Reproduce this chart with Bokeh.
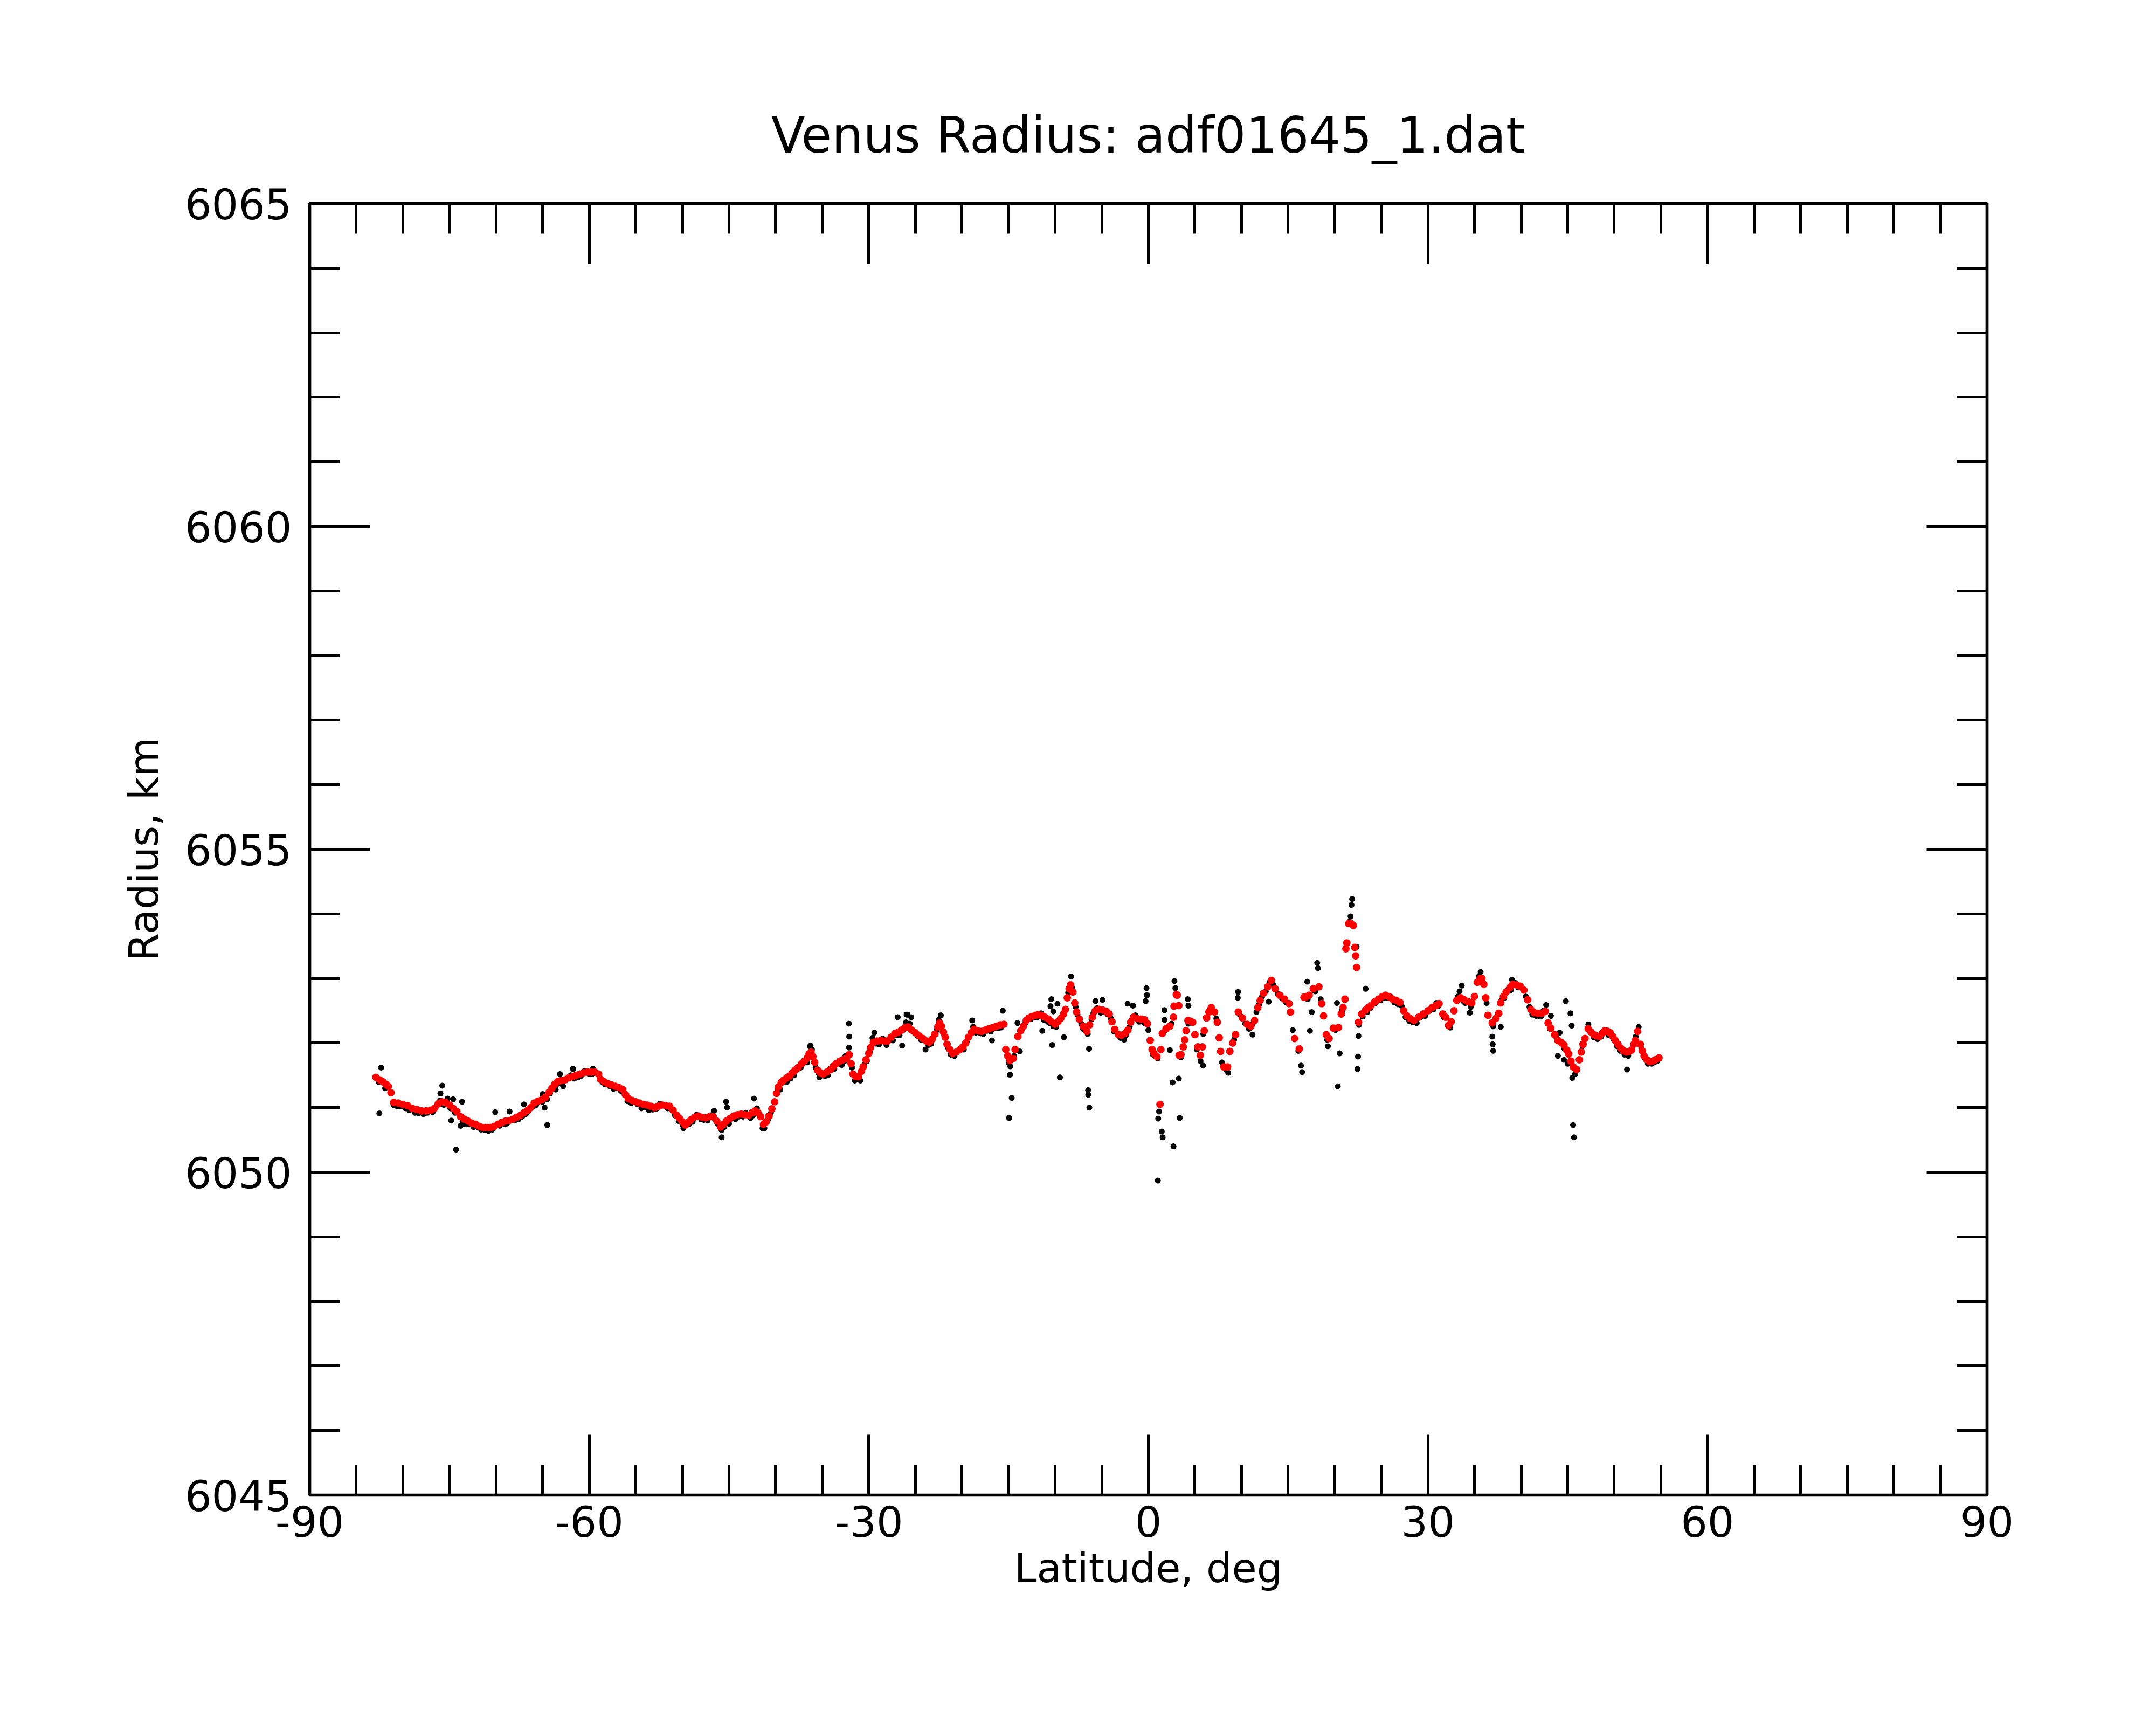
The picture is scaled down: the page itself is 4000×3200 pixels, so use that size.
from bokeh.plotting import figure
from bokeh.models import Range1d, LinearAxis, FixedTicker, CustomJSTickFormatter
from bokeh.embed import file_html
from bokeh.resources import INLINE

# ---------------- data ----------------
title_text = "Venus Radius: adf01645_1.dat"
x_label = "Latitude, deg"
y_label = "Radius, km"
x_major = [-90, -60, -30, 0, 30, 60, 90]
x_minor = [v for v in range(-90, 91, 5) if v % 30 != 0]
y_major = [6045, 6050, 6055, 6060, 6065]
y_minor = [v for v in range(6045, 6066) if v % 5 != 0]

# smoothed radius (red), in segments
red_lat_a = [-82.9,-82.5,-82.14,-81.8,-81.56,-81.27,-80.98,-80.5,-80.0,-79.5,-79.0,-78.5,-78.0,-77.5,-77.0,-76.6,-76.2,-75.8,-75.4,-75.0,-74.6,-74.2,-73.8,-73.4,-73.0,-72.6,-72.2,-71.8,-71.4,-71.0,-70.6,-70.2,-69.8,-69.4,-69.0,-68.6,-68.2,-67.8,-67.4,-67.0,-66.6,-66.3,-65.9,-65.5,-65.1,-64.7,-64.3,-64.0,-63.7,-63.4,-63.0,-62.6,-62.2,-61.8,-61.4,-61.0,-60.6,-60.2,-59.8,-59.4,-59.0,-58.8,-58.4,-58.0,-57.6,-57.2,-56.8,-56.4,-56.1,-55.8,-55.4,-55.0]
red_r_a = [6051.47,6051.43,6051.40,6051.36,6051.33,6051.23,6051.08,6051.07,6051.05,6051.03,6050.99,6050.97,6050.95,6050.95,6050.96,6050.99,6051.06,6051.09,6051.08,6051.04,6050.99,6050.94,6050.86,6050.82,6050.79,6050.76,6050.74,6050.71,6050.69,6050.69,6050.69,6050.71,6050.74,6050.77,6050.79,6050.80,6050.82,6050.85,6050.88,6050.92,6050.96,6051.00,6051.07,6051.10,6051.12,6051.16,6051.24,6051.30,6051.36,6051.40,6051.42,6051.43,6051.46,6051.48,6051.50,6051.52,6051.54,6051.55,6051.55,6051.55,6051.52,6051.44,6051.40,6051.37,6051.35,6051.33,6051.31,6051.28,6051.20,6051.14,6051.11,6051.09]

red_lat_b = [-54.6,-54.2,-53.8,-53.4,-53.0,-52.6,-52.2,-51.8,-51.4,-51.0,-50.6,-50.3,-50.0,-49.7,-49.4,-49.1,-48.7,-48.3,-47.9,-47.5,-47.1,-46.7,-46.3,-45.9,-45.6,-45.3,-44.9,-44.5,-44.1,-43.7,-43.3,-42.9,-42.5,-42.2,-41.9,-41.6,-41.3,-41.0,-40.7,-40.4,-40.1,-39.9,-39.7,-39.4,-39.1,-38.8,-38.5,-38.2,-37.9,-37.6,-37.2,-36.9,-36.6,-36.4,-36.2,-36.0,-35.8,-35.5,-35.2,-34.9,-34.5,-34.1,-33.8,-33.5,-33.1,-32.8,-32.4,-32.1,-31.9,-31.7,-31.4,-31.1,-30.8,-30.6,-30.3,-30.0,-29.8,-29.5,-29.1,-28.7,-28.3,-28.0,-27.6,-27.2,-26.8,-26.5,-26.1,-25.8,-25.4]
red_r_b = [6051.07,6051.05,6051.04,6051.02,6051.00,6051.02,6051.04,6051.03,6051.02,6050.96,6050.88,6050.83,6050.78,6050.73,6050.77,6050.81,6050.85,6050.87,6050.85,6050.84,6050.86,6050.86,6050.79,6050.70,6050.74,6050.79,6050.83,6050.87,6050.89,6050.90,6050.89,6050.88,6050.92,6050.95,6050.92,6050.86,6050.74,6050.78,6050.87,6050.98,6051.09,6051.22,6051.32,6051.39,6051.43,6051.46,6051.49,6051.54,6051.58,6051.62,6051.68,6051.72,6051.77,6051.83,6051.86,6051.79,6051.70,6051.58,6051.54,6051.52,6051.55,6051.59,6051.64,6051.68,6051.72,6051.74,6051.76,6051.82,6051.68,6051.52,6051.48,6051.48,6051.56,6051.63,6051.74,6051.84,6051.93,6052.01,6052.03,6052.04,6052.03,6052.03,6052.09,6052.15,6052.17,6052.20,6052.24,6052.25,6052.20]

red_lat_c = [-25.0,-24.6,-24.2,-23.8,-23.5,-23.2,-22.9,-22.6,-22.4,-22.2,-22.0,-21.8,-21.6,-21.3,-21.0,-20.6,-20.2,-19.9,-19.6,-19.3,-19.0,-18.7,-18.3,-17.9,-17.5,-17.1,-16.7,-16.3,-15.9,-15.5,-15.3,-15.1,-14.85,-14.5,-14.3,-14.0,-13.7,-13.4,-13.1,-12.8,-12.5,-12.1,-11.8,-11.4,-11.1,-10.7,-10.4,-10.0,-9.7,-9.4,-9.1,-8.9,-8.7,-8.5,-8.35,-8.1,-7.9,-7.7,-7.4,-7.0,-6.6,-6.3,-6.0,-5.7,-5.3,-4.9,-4.5,-4.2,-3.9,-3.6,-3.2,-2.9,-2.5,-2.2,-1.9,-1.6,-1.2,-0.8,-0.4,-0.1,0.2,0.4,0.6,0.9,1.25,1.35,1.5,1.9,2.3,2.7,2.75,3.0]
red_r_c = [6052.16,6052.11,6052.07,6052.03,6052.01,6052.06,6052.14,6052.25,6052.31,6052.26,6052.17,6052.09,6051.98,6051.90,6051.84,6051.86,6051.90,6051.94,6052.00,6052.09,6052.16,6052.21,6052.19,6052.18,6052.20,6052.22,6052.24,6052.26,6052.28,6052.29,6051.90,6051.80,6051.73,6051.76,6051.90,6052.10,6052.19,6052.26,6052.35,6052.39,6052.41,6052.43,6052.44,6052.42,6052.40,6052.37,6052.33,6052.29,6052.33,6052.38,6052.45,6052.52,6052.70,6052.84,6052.90,6052.79,6052.62,6052.48,6052.37,6052.26,6052.18,6052.28,6052.40,6052.50,6052.52,6052.51,6052.49,6052.45,6052.33,6052.21,6052.13,6052.12,6052.15,6052.20,6052.32,6052.40,6052.38,6052.37,6052.36,6052.30,6052.04,6051.90,6051.84,6051.79,6051.05,6051.90,6052.15,6052.22,6052.26,6052.40,6052.57,6052.75]

red_lat_d = [3.1,3.27,3.3,3.5,3.75,3.9,4.05,4.25,4.5,4.75,5.0,5.3,5.58,5.8,6.0,6.25,6.5,6.75,7.1,7.4,7.6,7.75,8.1,8.5,8.75,9.05,9.35,9.65,10.1,10.6,11.0,11.4,11.75,12.0,12.35,12.8,13.2,13.6,14.1,14.6,15.1,15.25,15.7,16.2,16.7,17.0,17.25,17.7,18.3,18.6,18.8,19.1,19.4,19.85,20.4,20.7,20.9,21.1,21.2,21.3,21.5,21.75,22.0,22.15,22.25,22.35,22.55,22.9,23.3,23.6,23.9,24.3,24.7,25.1,25.45,25.8,26.2,26.6,27.0,27.4,27.75,28.1,28.5,29.0,29.5,30.0,30.45,30.85,31.2,31.6,31.9,32.2,32.5,32.8]
red_r_d = [6052.74,6052.58,6051.81,6051.82,6051.94,6052.05,6052.19,6052.35,6052.34,6052.32,6052.13,6051.94,6051.81,6051.94,6052.19,6052.39,6052.48,6052.55,6052.48,6052.32,6052.08,6051.87,6051.63,6051.63,6051.87,6052.00,6052.13,6052.48,6052.39,6052.29,6052.26,6052.35,6052.55,6052.66,6052.77,6052.87,6052.97,6052.84,6052.74,6052.68,6052.61,6052.48,6052.07,6051.91,6052.71,6052.72,6052.74,6052.84,6052.87,6052.61,6052.42,6052.13,6052.07,6052.23,6052.24,6052.45,6052.55,6052.68,6053.46,6053.55,6053.85,6053.85,6053.82,6053.48,6053.35,6053.17,6052.32,6052.45,6052.51,6052.55,6052.58,6052.64,6052.68,6052.72,6052.74,6052.72,6052.68,6052.66,6052.63,6052.50,6052.42,6052.38,6052.35,6052.40,6052.45,6052.50,6052.55,6052.58,6052.61,6052.45,6052.40,6052.27,6052.33,6052.50]

red_lat_e = [33.1,33.5,33.9,34.3,34.7,35.0,35.3,35.6,35.8,36.0,36.2,36.45,36.9,37.3,37.6,37.8,38.1,38.4,38.8,39.1,39.5,39.9,40.3,40.7,41.05,41.4,41.8,42.2,42.6,42.9,43.2,43.6,43.95,44.3,44.6,44.9,45.1,45.35,45.6,45.95,46.25,46.45,46.65,46.85,47.2,47.5,47.8,48.1,48.4,48.7,48.95,49.3,49.55,49.85,50.1,50.4,50.7,51.0,51.3,51.6,51.85,52.1,52.25,52.5,52.8,53.0,53.2,53.5,53.8,54.1,54.4,54.8]
red_r_e = [6052.66,6052.70,6052.67,6052.64,6052.62,6052.72,6052.94,6053.00,6053.00,6052.91,6052.70,6052.43,6052.31,6052.38,6052.46,6052.62,6052.72,6052.79,6052.86,6052.91,6052.90,6052.88,6052.82,6052.67,6052.52,6052.47,6052.46,6052.46,6052.49,6052.31,6052.23,6052.13,6052.04,6052.01,6051.97,6051.89,6051.83,6051.72,6051.63,6051.59,6051.74,6051.86,6051.98,6052.07,6052.22,6052.17,6052.13,6052.11,6052.10,6052.15,6052.19,6052.18,6052.16,6052.10,6052.04,6051.98,6051.92,6051.88,6051.86,6051.87,6051.89,6051.98,6052.04,6052.18,6051.98,6051.88,6051.80,6051.74,6051.71,6051.72,6051.74,6051.77]

# raw radius (black) as (lat, radius) pairs, by region
raw_south = [(-82.6,6051.40),(-81.9,6051.30),(-81.0,6051.04),(-80.2,6051.02),(-79.3,6050.96),(-78.3,6050.91),(-77.4,6050.92),(-76.8,6050.93),(-76.0,6051.11),(-75.2,6051.06),(-74.4,6050.92),(-73.6,6050.78),(-72.8,6050.74),(-72.0,6050.70),(-71.2,6050.65),(-70.4,6050.66),(-69.6,6050.72),(-68.8,6050.76),(-68.0,6050.80),(-67.2,6050.86),(-66.5,6050.95),(-65.7,6051.04),(-65.0,6051.09),(-64.2,6051.22),(-63.5,6051.36),(-62.8,6051.40),(-62.0,6051.50),(-61.2,6051.47),(-60.5,6051.57),(-59.7,6051.52),(-58.6,6051.40),(-57.8,6051.33),(-57.0,6051.30),(-56.2,6051.20),(-55.5,6051.07),
             (-82.33,6051.62),(-82.52,6050.91),(-82.0,6051.38),(-75.77,6051.34),(-75.97,6051.22),(-75.2,6051.14),(-74.6,6051.13),(-73.65,6051.09),(-74.29,6050.35),(-74.8,6050.80),(-73.8,6050.72),(-70.09,6050.93),(-68.55,6050.94),(-67.0,6051.05),(-65.0,6051.21),(-64.79,6051.00),(-64.5,6050.73),(-63.14,6051.52),(-61.74,6051.60),(-62.8,6051.33),(-63.6,6051.28),(-59.6,6051.60)]
raw_south_fringe = [(-82.7,6051.44),(-80.6,6051.02),(-79.7,6050.99),(-78.7,6050.92),(-77.8,6050.90),(-76.4,6051.02),(-75.6,6051.04),(-74.9,6050.99),(-73.2,6050.74),(-72.4,6050.70),(-71.6,6050.66),(-70.8,6050.64),(-69.0,6050.74),(-67.6,6050.82),(-66.8,6050.90),(-66.0,6051.02),(-64.5,6051.13),(-63.8,6051.32),(-63.2,6051.38),(-61.6,6051.45),(-60.9,6051.49),(-60.0,6051.52),(-58.3,6051.36),(-57.4,6051.29),(-56.6,6051.26),(-55.9,6051.10)]
raw_midsouth = [(-54.8,6051.05),(-54.0,6051.00),(-53.2,6050.97),(-52.4,6051.06),(-51.6,6050.99),(-50.8,6050.88),(-50.0,6050.74),(-49.3,6050.74),(-48.5,6050.89),(-47.7,6050.81),(-47.0,6050.88),(-46.2,6050.75),(-45.5,6050.70),(-44.7,6050.84),(-44.0,6050.86),(-43.2,6050.92),(-42.4,6050.88),(-41.8,6050.90),(-41.2,6050.68),(-40.5,6050.92),(-39.8,6051.25),(-39.2,6051.40),(-38.4,6051.45),(-37.6,6051.60),(-36.8,6051.70),(-36.1,6051.90),(-35.4,6051.53),(-34.7,6051.49),(-34.0,6051.62),(-33.2,6051.70),(-32.6,6051.72),(-31.8,6051.62),(-31.2,6051.44),(-30.5,6051.66),(-29.9,6051.86),(-29.2,6051.99),(-28.5,6052.07),(-27.8,6052.05),(-27.0,6052.12),(-26.3,6052.20),(-25.6,6052.30),
                (-45.31,6051.09),(-45.2,6051.00),(-45.79,6050.54),(-42.32,6051.14),(-46.6,6050.95),(-36.25,6051.96),(-32.14,6052.30),(-32.1,6052.10),(-32.12,6051.93),(-29.4,6052.16),(-26.9,6052.40),(-25.94,6052.44),(-26.42,6051.96),(-25.45,6052.40)]
raw_midsouth_fringe = [(-54.4,6050.99),(-53.6,6050.96),(-52.8,6050.98),(-51.2,6050.97),(-50.4,6050.79),(-49.9,6050.68),(-48.9,6050.78),(-48.0,6050.82),(-47.3,6050.80),(-46.5,6050.81),(-45.8,6050.65),(-45.0,6050.75),(-44.3,6050.82),(-43.5,6050.86),(-42.7,6050.84),(-42.0,6050.99),(-41.4,6050.68),(-40.8,6050.82),
                       (-39.5,6051.28),(-38.8,6051.40),(-38.0,6051.50),(-37.3,6051.62),(-36.6,6051.70),(-36.3,6051.95),(-35.7,6051.62),(-35.3,6051.47),(-34.4,6051.50),(-33.7,6051.60),(-32.9,6051.66),(-32.5,6051.80),(-31.5,6051.42),(-30.9,6051.42),(-30.2,6051.72),(-29.6,6052.08),(-28.9,6051.98),(-28.1,6051.97),(-27.4,6052.04),(-26.7,6052.12),(-26.0,6052.32)]
raw_equator = [(-24.8,6052.12),(-24.0,6052.04),(-23.3,6051.99),(-22.7,6052.20),(-21.9,6052.12),(-21.2,6051.82),(-20.4,6051.88),(-19.5,6052.02),(-18.8,6052.25),(-18.0,6052.15),(-17.3,6052.19),(-16.5,6052.23),(-15.8,6052.24),(-15.0,6051.70),(-14.4,6051.80),(-13.6,6052.20),(-12.9,6052.37),(-12.2,6052.40),(-11.5,6052.46),(-10.8,6052.33),(-10.2,6052.26),(-9.6,6052.35),(-9.0,6052.48),(-8.6,6052.78),(-8.2,6052.86),(-7.6,6052.44),(-7.2,6052.30),(-6.8,6052.22),(-6.1,6052.37),(-5.5,6052.54),(-4.7,6052.48),(-4.0,6052.38),(-3.4,6052.16),(-2.7,6052.10),(-2.0,6052.25),(-1.4,6052.43),(-0.6,6052.33),(0.0,6052.20),(0.5,6051.82),(1.0,6051.76),(1.8,6052.19),(2.5,6052.30),
               (-25.84,6052.44),(-23.91,6051.90),(-22.27,6052.43),(-18.9,6052.35),(-16.78,6052.04),(-15.62,6052.50),(-14.04,6052.31),(-13.79,6051.87),(-14.81,6051.64),(-14.85,6051.51),(-14.66,6051.15),(-14.94,6050.84),(-11.38,6052.19),(-10.41,6052.68),(-10.5,6052.57),(-10.2,6052.49),(-10.32,6051.97),(-9.49,6051.47),(-9.75,6052.61),(-9.06,6052.09),(-8.29,6053.03),(-6.36,6051.91),(-6.46,6051.27),(-6.45,6051.20),(-6.33,6051.00),(-5.69,6052.65),(-4.92,6052.67),(-2.6,6052.05),(-2.22,6052.61),(-1.65,6052.58),(-0.2,6052.85),(-0.15,6052.74),(-0.29,6052.65),(1.73,6052.51),(1.75,6052.36),(2.8,6052.96),(2.9,6052.85),(2.31,6051.89),(1.15,6050.94),(1.06,6050.83),(1.44,6050.63),(1.54,6050.54),(2.7,6050.40),(1.02,6049.87),(2.6,6051.39),(3.27,6051.45),(3.37,6050.84)]
raw_equator_fringe = [(-24.4,6052.05),(-23.6,6051.97),(-22.5,6052.36),(-21.5,6051.93),(-20.8,6051.80),(-19.8,6051.90),(-18.5,6052.16),(-17.7,6052.14),(-16.9,6052.18),(-16.1,6052.23),(-13.2,6052.31),(-12.6,6052.37),(-11.9,6052.40),(-11.2,6052.36),(-10.6,6052.31),(-9.9,6052.25),(-7.8,6052.56),(-7.0,6052.22),(-6.5,6052.14),(-5.9,6052.46),(-5.1,6052.47),(-4.4,6052.45),(-3.7,6052.18),(-3.0,6052.08),(-2.4,6052.12),(-1.8,6052.36),(-1.0,6052.33),(-0.4,6052.31)]
raw_midnorth = [(3.5,6051.78),(4.3,6052.30),(5.2,6051.90),(5.9,6052.14),(6.6,6052.52),(7.3,6052.38),(7.9,6051.70),(8.4,6051.58),(9.2,6052.05),(9.8,6052.44),(10.4,6052.30),(11.2,6052.30),(11.9,6052.60),(12.6,6052.80),(13.0,6052.94),(13.9,6052.76),(14.8,6052.63),(15.5,6052.20),(16.1,6051.88),(17.1,6052.68),(17.9,6052.80),(18.5,6052.68),(19.2,6052.05),(20.1,6052.20),(20.8,6052.50),(21.6,6053.88),(22.6,6052.28),(23.5,6052.48),(24.4,6052.62),(25.3,6052.70),(26.0,6052.72),(26.8,6052.60),(27.6,6052.40),(28.4,6052.32),(29.2,6052.40),(30.2,6052.50),(30.9,6052.62),(31.7,6052.40),(32.4,6052.24),
                (21.87,6054.23),(21.8,6054.14),(21.7,6053.96),(22.35,6053.49),(18.12,6053.24),(18.2,6053.16),(17.05,6052.95),(23.32,6052.84),(9.63,6052.79),(9.6,6052.70),(4.23,6052.68),(4.3,6052.58),(17.54,6052.48),(17.34,6052.19),(20.24,6052.62),(20.53,6051.84),(20.33,6051.33),(22.55,6052.11),(22.5,6051.79),(22.45,6051.60),(16.38,6051.65),(16.5,6051.55),(5.87,6051.65),(5.6,6051.72),(12.91,6052.64),(11.18,6052.13),(8.57,6051.54),(19.27,6051.95)]
raw_midnorth_fringe = [(10.8,6052.22),(11.6,6052.48),(12.2,6052.72),(13.4,6052.90),(14.3,6052.70),(23.0,6052.41),(23.8,6052.54),(24.9,6052.66),(25.7,6052.70),(26.4,6052.63),(27.2,6052.57),(28.0,6052.34),(28.8,6052.31),(29.7,6052.42),(30.6,6052.52),(31.1,6052.57)]
raw_north = [(33.2,6052.72),(34.0,6052.62),(34.6,6052.56),(35.5,6053.04),(36.3,6052.62),(37.0,6052.26),(37.9,6052.66),(38.6,6052.83),(39.4,6052.93),(40.1,6052.85),(40.9,6052.56),(41.6,6052.42),(42.4,6052.50),(43.1,6052.22),(43.8,6052.08),(44.6,6051.92),(45.3,6051.70),(45.8,6051.52),(46.6,6051.95),(47.4,6052.18),(48.2,6052.06),(49.1,6052.20),(49.9,6052.06),(50.6,6051.88),(51.5,6051.84),(52.3,6052.10),(52.9,6051.92),(53.6,6051.68),(54.3,6051.70),
             (35.66,6053.10),(33.63,6052.89),(33.4,6052.80),(39.03,6052.98),(34.5,6052.47),(36.91,6052.10),(36.95,6051.98),(37.0,6051.88),(37.82,6052.25),(42.69,6052.59),(43.2,6052.42),(44.81,6052.65),(45.3,6052.46),(45.43,6052.27),(44.14,6052.16),(43.95,6051.80),(44.6,6051.74),(45.0,6051.68),(45.49,6051.46),(45.58,6050.73),(45.68,6050.54),(47.22,6052.29),(51.37,6051.59),(52.62,6052.25),(51.5,6051.80)]
raw_north_fringe = [(33.8,6052.65),(38.2,6052.70),(38.9,6052.82),(39.7,6052.86),(40.5,6052.72),(41.2,6052.44),(41.9,6052.42),(42.2,6052.42),(47.8,6052.09),(48.6,6052.10),(49.4,6052.12),(50.3,6051.95),(51.1,6051.82),(53.3,6051.76),(54.0,6051.68),(54.6,6051.72)]

# ---------------- assemble ----------------
red_lat, red_r = [], []
for la, ra in [(red_lat_a, red_r_a), (red_lat_b, red_r_b), (red_lat_c, red_r_c),
               (red_lat_d, red_r_d), (red_lat_e, red_r_e)]:
    n = min(len(la), len(ra))
    red_lat += la[:n]
    red_r += ra[:n]

raw = (raw_south + raw_south_fringe + raw_midsouth + raw_midsouth_fringe +
       raw_equator + raw_equator_fringe + raw_midnorth + raw_midnorth_fringe +
       raw_north + raw_north_fringe)
raw_lat = [a for a, b in raw]
raw_r = [b for a, b in raw]

FONT = "DejaVu Sans"

p = figure(width=3984, height=3184, output_backend="svg", toolbar_location=None,
           x_range=Range1d(-90, 90), y_range=Range1d(6045, 6065),
           min_border_left=574, min_border_right=298,
           min_border_top=377, min_border_bottom=411,
           title=title_text)
p.background_fill_color = "white"
p.border_fill_color = "white"
p.xgrid.visible = False
p.ygrid.visible = False
p.outline_line_color = "black"
p.outline_line_width = 5.7
p.outline_line_alpha = 1.0

p.title.align = "center"
p.title.text_font = FONT
p.title.text_font_size = "92px"
p.title.text_font_style = "normal"
p.title.text_color = "black"
p.title.standoff = 145

labels_js = CustomJSTickFormatter(code="return tick.toFixed(0);")
empty_js = CustomJSTickFormatter(code="return '';")


def style_axis(ax, major, minor, show):
    ax.ticker = FixedTicker(ticks=major, minor_ticks=minor)
    ax.axis_line_color = None
    ax.major_tick_in = 112
    ax.major_tick_out = 0
    ax.minor_tick_in = 56
    ax.minor_tick_out = 0
    ax.major_tick_line_width = 5
    ax.minor_tick_line_width = 5
    ax.major_tick_line_color = "black"
    ax.minor_tick_line_color = "black"
    ax.major_label_text_font = FONT
    ax.major_label_text_font_size = "78px"
    ax.major_label_text_color = "black"
    ax.axis_label_text_font = FONT
    ax.axis_label_text_font_size = "75px"
    ax.axis_label_text_font_style = "normal"
    ax.axis_label_text_color = "black"
    ax.formatter = labels_js if show else empty_js


xb = p.xaxis[0]
yl = p.yaxis[0]
style_axis(xb, x_major, x_minor, True)
style_axis(yl, y_major, y_minor, True)
xb.axis_label = x_label
yl.axis_label = y_label
xb.major_label_standoff = 19
xb.axis_label_standoff = 11
yl.major_label_standoff = 33
yl.axis_label_standoff = 29

xt = LinearAxis()
style_axis(xt, x_major, x_minor, False)
xt.major_label_standoff = 0
p.add_layout(xt, "above")
yr = LinearAxis()
style_axis(yr, y_major, y_minor, False)
yr.major_label_standoff = 0
p.add_layout(yr, "right")

p.scatter(raw_lat, raw_r, marker="circle", size=11, fill_color="black", line_color=None)
p.scatter(red_lat, red_r, marker="circle", size=14, fill_color="#ff0000", line_color=None)

open("out.html", "w").write(file_html(p, INLINE))
